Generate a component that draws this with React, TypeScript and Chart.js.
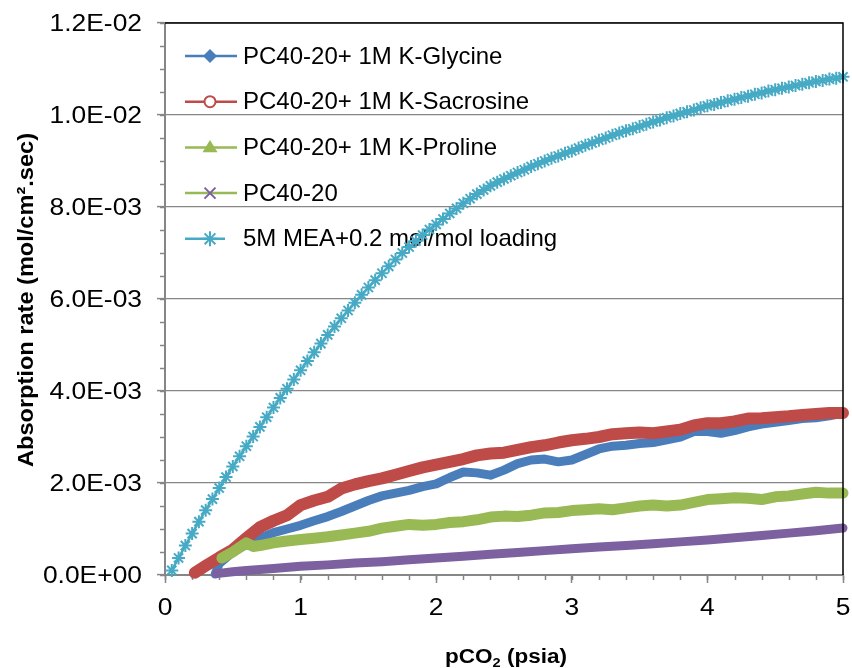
import React, { useEffect, useRef } from "react";
import { Chart, registerables } from "chart.js";

Chart.register(...registerables);

// Values are in 1e-3 mol/cm2.sec units (converted with UNIT when building datasets)
const UNIT = 1e-3;

const SERIES_NAMES = [
  "PC40-20+ 1M K-Glycine",
  "PC40-20+ 1M K-Sacrosine",
  "PC40-20+ 1M K-Proline",
  "PC40-20",
  "5M MEA+0.2 mol/mol loading",
];

const GLY_X = [0.37, 0.4, 0.5, 0.6, 0.7, 0.8, 0.9, 1.0, 1.1, 1.2, 1.3, 1.4, 1.5, 1.6, 1.7, 1.8, 1.9, 2.0, 2.1, 2.2, 2.3, 2.4, 2.5, 2.6, 2.7, 2.8, 2.9, 3.0, 3.1, 3.2, 3.3, 3.4, 3.5, 3.6, 3.7, 3.8, 3.9, 4.0, 4.1, 4.2, 4.3, 4.4, 4.5, 4.6, 4.7, 4.8, 4.9, 5.0];
const GLY_Y = [0.02, 0.25, 0.5, 0.66, 0.8, 0.92, 1.0, 1.08, 1.18, 1.27, 1.38, 1.5, 1.62, 1.72, 1.78, 1.84, 1.92, 1.98, 2.12, 2.24, 2.22, 2.17, 2.28, 2.42, 2.5, 2.52, 2.46, 2.5, 2.62, 2.74, 2.8, 2.82, 2.86, 2.88, 2.94, 3.0, 3.12, 3.12, 3.08, 3.14, 3.22, 3.28, 3.32, 3.36, 3.4, 3.42, 3.46, 3.52];

const SAR_X = [0.22, 0.3, 0.4, 0.5, 0.6, 0.7, 0.8, 0.9, 1.0, 1.1, 1.2, 1.3, 1.4, 1.5, 1.6, 1.7, 1.8, 1.9, 2.0, 2.1, 2.2, 2.3, 2.4, 2.5, 2.6, 2.7, 2.8, 2.9, 3.0, 3.1, 3.2, 3.3, 3.4, 3.5, 3.6, 3.7, 3.8, 3.9, 4.0, 4.1, 4.2, 4.3, 4.4, 4.5, 4.6, 4.7, 4.8, 4.9, 5.0];
const SAR_Y = [0.05, 0.2, 0.38, 0.55, 0.8, 1.04, 1.18, 1.3, 1.52, 1.62, 1.7, 1.88, 1.97, 2.04, 2.1, 2.18, 2.26, 2.34, 2.4, 2.46, 2.52, 2.6, 2.64, 2.66, 2.72, 2.78, 2.82, 2.88, 2.93, 2.96, 3.0, 3.06, 3.08, 3.1, 3.08, 3.12, 3.16, 3.25, 3.3, 3.3, 3.34, 3.4, 3.41, 3.43, 3.45, 3.48, 3.5, 3.52, 3.52];

const PRO_X = [0.42, 0.5, 0.6, 0.65, 0.7, 0.8, 0.9, 1.0, 1.1, 1.2, 1.3, 1.4, 1.5, 1.6, 1.7, 1.8, 1.9, 2.0, 2.1, 2.2, 2.3, 2.4, 2.5, 2.6, 2.7, 2.8, 2.9, 3.0, 3.1, 3.2, 3.3, 3.4, 3.5, 3.6, 3.7, 3.8, 3.9, 4.0, 4.1, 4.2, 4.3, 4.4, 4.5, 4.6, 4.7, 4.8, 4.9, 5.0];
const PRO_Y = [0.37, 0.5, 0.7, 0.62, 0.64, 0.7, 0.74, 0.77, 0.8, 0.83, 0.87, 0.91, 0.95, 1.02, 1.06, 1.1, 1.08, 1.1, 1.14, 1.16, 1.2, 1.26, 1.28, 1.27, 1.3, 1.35, 1.36, 1.4, 1.42, 1.44, 1.42, 1.46, 1.5, 1.52, 1.5, 1.52, 1.58, 1.64, 1.66, 1.68, 1.67, 1.64, 1.7, 1.72, 1.76, 1.8, 1.78, 1.78];

const PC_X = [0.38, 0.5, 0.6, 0.8, 1.0, 1.2, 1.4, 1.6, 1.8, 2.0, 2.2, 2.4, 2.6, 2.8, 3.0, 3.2, 3.4, 3.6, 3.8, 4.0, 4.2, 4.4, 4.6, 4.8, 5.0];
const PC_Y = [0.03, 0.07, 0.1, 0.14, 0.19, 0.22, 0.26, 0.29, 0.33, 0.37, 0.41, 0.45, 0.49, 0.53, 0.57, 0.61, 0.64, 0.68, 0.72, 0.76, 0.81, 0.86, 0.91, 0.96, 1.02];

const MEA_X = [0.05, 0.1, 0.15, 0.2, 0.25, 0.3, 0.35, 0.4, 0.45, 0.5,
  0.55, 0.6, 0.65, 0.7, 0.75, 0.8, 0.85, 0.9, 0.95, 1.0,
  1.05, 1.1, 1.15, 1.2, 1.25, 1.3, 1.35, 1.4, 1.45, 1.5,
  1.55, 1.6, 1.65, 1.7, 1.75, 1.8, 1.85, 1.9, 1.95, 2.0,
  2.05, 2.1, 2.15, 2.2, 2.25, 2.3, 2.35, 2.4, 2.45, 2.5,
  2.55, 2.6, 2.65, 2.7, 2.75, 2.8, 2.85, 2.9, 2.95, 3.0,
  3.05, 3.1, 3.15, 3.2, 3.25, 3.3, 3.35, 3.4, 3.45, 3.5,
  3.55, 3.6, 3.65, 3.7, 3.75, 3.8, 3.85, 3.9, 3.95, 4.0,
  4.05, 4.1, 4.15, 4.2, 4.25, 4.3, 4.35, 4.4, 4.45, 4.5,
  4.55, 4.6, 4.65, 4.7, 4.75, 4.8, 4.85, 4.9, 4.95, 5.0];
const MEA_Y = [0.10, 0.37, 0.64, 0.90, 1.16, 1.41, 1.65, 1.89, 2.13, 2.36,
  2.58, 2.80, 3.01, 3.22, 3.43, 3.64, 3.85, 4.05, 4.25, 4.45,
  4.65, 4.84, 5.03, 5.22, 5.40, 5.58, 5.75, 5.92, 6.09, 6.25,
  6.41, 6.56, 6.71, 6.86, 7.00, 7.13, 7.26, 7.39, 7.51, 7.62,
  7.74, 7.86, 7.97, 8.08, 8.18, 8.28, 8.37, 8.46, 8.54, 8.61,
  8.68, 8.75, 8.81, 8.88, 8.94, 9.00, 9.06, 9.11, 9.17, 9.22,
  9.28, 9.34, 9.39, 9.45, 9.50, 9.56, 9.61, 9.66, 9.70, 9.75,
  9.80, 9.85, 9.89, 9.94, 9.98, 10.03, 10.07, 10.11, 10.16, 10.20,
  10.23, 10.27, 10.31, 10.34, 10.38, 10.41, 10.45, 10.48, 10.52, 10.55,
  10.58, 10.61, 10.64, 10.67, 10.70, 10.73, 10.75, 10.78, 10.80, 10.83];

const X_MIN = 0, X_MAX = 5, X_STEP = 1, X_MINOR = 0.2;
const Y_MIN = 0, Y_MAX = 0.012, Y_STEP = 0.002, Y_MINOR = 0.0005;

const Y_TITLE = "Absorption rate (mol/cm\u00B2.sec)";
const X_TITLE_A = "pCO";
const X_TITLE_SUB = "2";
const X_TITLE_B = " (psia)";

const BLUE = "#4A7EBB";
const RED = "#BE4B48";
const GREEN = "#98B954";
const PURPLE = "#7D60A0";
const AQUA = "#46AAC5";
const AXIS = "#868686";
const FONT = '"Liberation Sans", Arial, sans-serif';

const pts = (xs: number[], ys: number[]) => xs.map((x, i) => ({ x, y: ys[i] * UNIT }));

function fmtSci(v: number) {
  const [m, e] = v.toExponential(1).split("e");
  const sign = e[0] === "-" ? "-" : "+";
  const digits = e.replace(/[+-]/, "").padStart(2, "0");
  return `${m}E${sign}${digits}`;
}

function drawMarker(ctx: CanvasRenderingContext2D, kind: string, cx: number, cy: number) {
  ctx.save();
  ctx.lineWidth = 2;
  if (kind === "diamond") {
    const r = 7;
    ctx.beginPath();
    ctx.moveTo(cx, cy - r); ctx.lineTo(cx + r, cy); ctx.lineTo(cx, cy + r); ctx.lineTo(cx - r, cy);
    ctx.closePath(); ctx.fillStyle = BLUE; ctx.fill();
  } else if (kind === "circle") {
    ctx.beginPath(); ctx.arc(cx, cy, 5.5, 0, Math.PI * 2);
    ctx.fillStyle = "#fff"; ctx.fill(); ctx.strokeStyle = RED; ctx.lineWidth = 2; ctx.stroke();
  } else if (kind === "triangle") {
    const r = 7.5;
    ctx.beginPath();
    ctx.moveTo(cx, cy - r); ctx.lineTo(cx + r, cy + r * 0.65); ctx.lineTo(cx - r, cy + r * 0.65);
    ctx.closePath(); ctx.fillStyle = GREEN; ctx.fill();
  } else if (kind === "x") {
    const r = 5.5;
    ctx.strokeStyle = PURPLE;
    ctx.beginPath();
    ctx.moveTo(cx - r, cy - r); ctx.lineTo(cx + r, cy + r);
    ctx.moveTo(cx - r, cy + r); ctx.lineTo(cx + r, cy - r); ctx.stroke();
  } else if (kind === "star") {
    const r = 7.5;
    ctx.strokeStyle = AQUA;
    ctx.beginPath();
    ctx.moveTo(cx - r, cy); ctx.lineTo(cx + r, cy);
    ctx.moveTo(cx, cy - r); ctx.lineTo(cx, cy + r);
    const d = r * 0.72;
    ctx.moveTo(cx - d, cy - d); ctx.lineTo(cx + d, cy + d);
    ctx.moveTo(cx - d, cy + d); ctx.lineTo(cx + d, cy - d);
    ctx.stroke();
  }
  ctx.restore();
}

const LEGEND_ITEMS = [
  { line: BLUE, marker: "diamond", lineEnd: 237, text: 243 },
  { line: RED, marker: "circle", lineEnd: 237, text: 243 },
  { line: GREEN, marker: "triangle", lineEnd: 237, text: 243 },
  { line: GREEN, marker: "x", lineEnd: 237, text: 243 },
  { line: AQUA, marker: "star", lineEnd: 225, text: 243 },
];

const TICK_FONT = `24px ${FONT}`;
const TICK_STRETCH = 1.1;

const decoPlugin = {
  id: "deco",
  beforeDatasetsDraw(chart: any) {
    const { ctx, chartArea: a, scales } = chart;
    const xs = scales.x, ys = scales.y;
    ctx.save();
    // minor ticks
    ctx.strokeStyle = AXIS;
    ctx.lineWidth = 1.5;
    ctx.beginPath();
    const nY = Math.round((Y_MAX - Y_MIN) / Y_MINOR);
    for (let i = 0; i <= nY; i++) {
      const py = Math.round(ys.getPixelForValue(Y_MIN + i * Y_MINOR)) + 0.5;
      ctx.moveTo(a.left - 5, py); ctx.lineTo(a.left, py);
    }
    const nX = Math.round((X_MAX - X_MIN) / X_MINOR);
    for (let i = 0; i <= nX; i++) {
      const px = Math.round(xs.getPixelForValue(X_MIN + i * X_MINOR)) + 0.5;
      ctx.moveTo(px, a.bottom); ctx.lineTo(px, a.bottom + 5);
    }
    ctx.stroke();

    // tick labels
    ctx.fillStyle = "#000";
    ctx.font = TICK_FONT;
    ys.ticks.forEach((t: any) => {
      const py = ys.getPixelForValue(t.value);
      ctx.save();
      ctx.translate(a.left - 23, py);
      ctx.scale(TICK_STRETCH, 1);
      ctx.textAlign = "right";
      ctx.textBaseline = "middle";
      ctx.fillText(fmtSci(t.value), 0, 1);
      ctx.restore();
    });
    xs.ticks.forEach((t: any) => {
      const px = xs.getPixelForValue(t.value);
      ctx.save();
      ctx.translate(px, a.bottom + 33);
      ctx.scale(TICK_STRETCH, 1);
      ctx.textAlign = "center";
      ctx.textBaseline = "middle";
      ctx.fillText(String(t.value), 0, 0);
      ctx.restore();
    });

    // legend
    ctx.font = `24px ${FONT}`;
    ctx.textBaseline = "middle";
    LEGEND_ITEMS.forEach((it, i) => {
      const cy = 56 + i * 45.7;
      ctx.strokeStyle = it.line;
      ctx.lineWidth = 2.5;
      ctx.beginPath(); ctx.moveTo(185, cy); ctx.lineTo(it.lineEnd, cy); ctx.stroke();
      drawMarker(ctx, it.marker, 210, cy);
      ctx.fillStyle = "#000";
      ctx.fillText(SERIES_NAMES[i], it.text, cy + 1);
    });

    // y title
    ctx.save();
    ctx.translate(27, 300);
    ctx.rotate(-Math.PI / 2);
    ctx.font = `bold 22px ${FONT}`;
    const w = ctx.measureText(Y_TITLE).width;
    ctx.scale(334 / w, 1);
    ctx.textAlign = "center";
    ctx.textBaseline = "middle";
    ctx.fillText(Y_TITLE, 0, 0);
    ctx.restore();

    // x title
    ctx.save();
    const big = `bold 20px ${FONT}`;
    const small = `bold 13px ${FONT}`;
    ctx.font = big;
    const wa = ctx.measureText(X_TITLE_A).width;
    const wb = ctx.measureText(X_TITLE_B).width;
    ctx.font = small;
    const ws = ctx.measureText(X_TITLE_SUB).width;
    const total = wa + ws + wb;
    const k = 122 / total;
    ctx.translate(506 - 61, 663);
    ctx.scale(k, 1);
    ctx.textBaseline = "alphabetic";
    ctx.textAlign = "left";
    ctx.font = big; ctx.fillText(X_TITLE_A, 0, 0);
    ctx.font = small; ctx.fillText(X_TITLE_SUB, wa, 4);
    ctx.font = big; ctx.fillText(X_TITLE_B, wa + ws, 0);
    ctx.restore();
    ctx.restore();
  },
  afterDatasetsDraw(chart: any) {
    const { ctx, chartArea: a } = chart;
    ctx.save();
    ctx.strokeStyle = "#000";
    ctx.lineWidth = 1.5;
    ctx.beginPath();
    ctx.moveTo(a.left, a.top); ctx.lineTo(a.right, a.top); ctx.lineTo(a.right, a.bottom);
    ctx.stroke();
    ctx.restore();
  },
};

export default function App() {
  const ref = useRef<HTMLCanvasElement | null>(null);
  useEffect(() => {
    if (!ref.current) return;
    const band = (label: string, color: string, data: any[], width: number, order: number) => ({
      label, data, borderColor: color, backgroundColor: color, borderWidth: width,
      pointRadius: 0, showLine: true, tension: 0, order,
      borderCapStyle: "round", borderJoinStyle: "round",
    });
    const chart = new Chart(ref.current, {
      type: "scatter",
      data: {
        datasets: [
          band(SERIES_NAMES[0], BLUE, pts(GLY_X, GLY_Y), 9, 5),
          band(SERIES_NAMES[1], RED, pts(SAR_X, SAR_Y), 12, 4),
          band(SERIES_NAMES[2], GREEN, pts(PRO_X, PRO_Y), 11, 3),
          band(SERIES_NAMES[3], PURPLE, pts(PC_X, PC_Y), 9, 2),
          {
            label: SERIES_NAMES[4], data: pts(MEA_X, MEA_Y), borderColor: AQUA, backgroundColor: AQUA,
            borderWidth: 2.5, pointStyle: "star", pointRadius: 6.5, pointBorderWidth: 2,
            pointBorderColor: AQUA, showLine: true, tension: 0, order: 1,
          } as any,
        ],
      },
      options: {
        animation: false,
        responsive: false,
        clip: 8 as any,
        layout: { padding: { top: 23, right: 9, left: 0, bottom: 0 } },
        plugins: { legend: { display: false }, tooltip: { enabled: false } },
        scales: {
          x: {
            type: "linear", min: X_MIN, max: X_MAX,
            ticks: { stepSize: X_STEP, display: false },
            grid: { drawOnChartArea: false, color: AXIS, tickLength: 8, tickWidth: 1.5 },
            border: { color: AXIS, width: 2 },
            afterFit: (s: any) => { s.height = 93; },
          },
          y: {
            type: "linear", min: Y_MIN, max: Y_MAX,
            ticks: { stepSize: Y_STEP, display: false },
            grid: { color: AXIS, lineWidth: 1.2, tickLength: 8, tickWidth: 1.5 },
            border: { color: AXIS, width: 2 },
            afterFit: (s: any) => { s.width = 165; },
          },
        },
      } as any,
      plugins: [decoPlugin],
    });
    return () => chart.destroy();
  }, []);
  return (
    <div style={{ position: "fixed", left: 0, top: 0, width: 852, height: 668, background: "#fff" }}>
      <canvas ref={ref} width={852} height={668} style={{ display: "block" }} />
    </div>
  );
}
